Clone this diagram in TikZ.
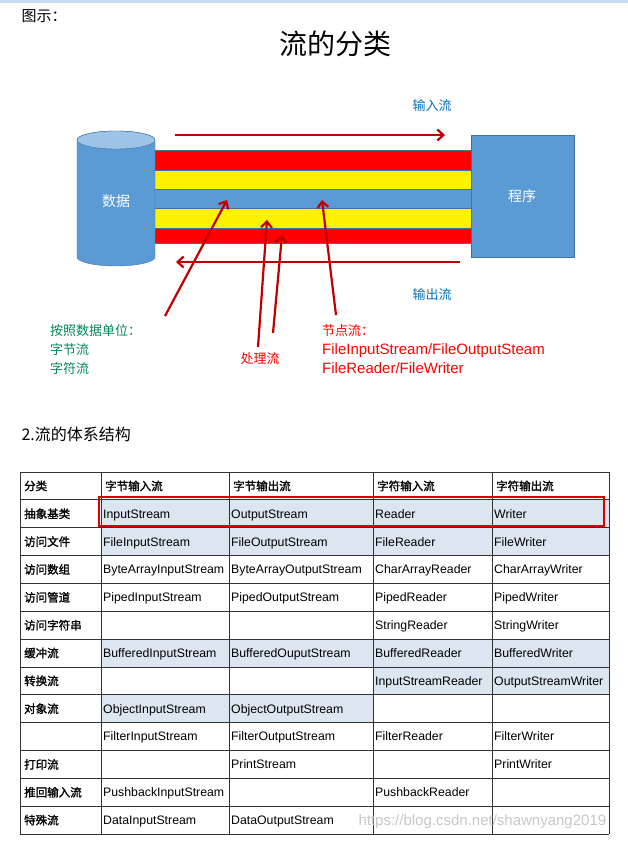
\documentclass[tikz,border=0pt]{standalone}
\usepackage{fontspec}
\setmainfont{Liberation Sans}
\newfontfamily\cjk{Noto Sans CJK SC}
\newfontfamily\cjkb[FakeBold=1.5]{Noto Sans CJK SC}
\usetikzlibrary{shapes.geometric,arrows.meta}
\definecolor{cylblue}{HTML}{5B9BD5}
\definecolor{cyltop}{HTML}{9DC3E6}
\definecolor{edgeblue}{HTML}{41719C}
\definecolor{lblue}{HTML}{DCE6F1}
\definecolor{dred}{HTML}{C00000}
\definecolor{lgreen}{HTML}{00855A}
\definecolor{tblue}{HTML}{0070C0}
\begin{document}
\begin{tikzpicture}[x=1pt,y=-1pt,
  redarr/.style={draw=dred,line width=2.2pt,-{Straight Barb[length=6pt,width=11pt]}},
  cell/.style={anchor=base west,font=\fontsize{12.3}{13}\selectfont,inner sep=0pt},
  hcell/.style={anchor=west,font=\cjkb\fontsize{11.5}{12}\selectfont,inner sep=0pt}]
\useasboundingbox (0,0) rectangle (628,841);
\fill[cyltop!60] (0,0) rectangle (628,3);
\node[anchor=west,font=\cjk\fontsize{15}{15}\selectfont] (tu) at (18,16) {图示：};
\node[font=\cjk\fontsize{28}{28}\selectfont] (title) at (335,44) {流的分类};
% stripes
\fill[red] (155,150) rectangle (471,170);
\fill[yellow] (155,170) rectangle (471,189);
\fill[cylblue] (155,189) rectangle (471,208);
\fill[yellow] (155,208) rectangle (471,228);
\fill[red] (155,228) rectangle (471,243);
\foreach \y in {150,170,189,208,228,243} \draw[edgeblue,line width=0.6pt] (155,\y) -- (471,\y);
% cylinder
\fill[cylblue,draw=edgeblue] (77,140) -- (77,257) arc[start angle=180,end angle=0,x radius=39,y radius=9] -- (155,140) arc[start angle=0,end angle=-180,x radius=39,y radius=9];
\fill[cyltop,draw=edgeblue] (116,140) ellipse[x radius=39,y radius=9];
\node[font=\cjk\fontsize{14}{14}\selectfont,text=white] (data) at (116,201) {数据};
\node[draw=edgeblue,fill=cylblue,minimum width=103pt,minimum height=122pt,inner sep=0pt] (prog) at (522.5,196) {};
\node[font=\cjk\fontsize{14}{14}\selectfont,text=white] (progt) at (522,196) {程序};
% flow arrows
\coordinate (i1) at (175,135); \coordinate (i2) at (445,135);
\coordinate (o1) at (460,262); \coordinate (o2) at (176,262);
\draw[redarr] (i1) -- (i2);
\draw[redarr] (o1) -- (o2);
\node[font=\cjk\fontsize{13}{13}\selectfont,text=tblue] (in) at (432,106) {输入流};
\node[font=\cjk\fontsize{13}{13}\selectfont,text=tblue] (out) at (432,295) {输出流};
% labels
\node[anchor=north west,align=left,inner sep=0pt,font=\cjk\fontsize{13}{19}\selectfont,text=lgreen] (g) at (50,324) {按照数据单位：\\字节流\\字符流};
\node[font=\cjk\fontsize{13}{13}\selectfont,text=red] (p) at (260,359) {处理流};
\node[anchor=north west,align=left,inner sep=0pt,font=\fontsize{15}{19}\selectfont,text=red] (n) at (322,324) {{\cjk\fontsize{13}{19}\selectfont 节点流：}\\FileInputStream/FileOutputSteam\\FileReader/FileWriter};
\coordinate (a1s) at (165,316); \coordinate (a1e) at (227,200);
\coordinate (a2s) at (258,347); \coordinate (a2e) at (267,220);
\coordinate (a3s) at (273,333); \coordinate (a3e) at (282,235);
\coordinate (a4s) at (336,315); \coordinate (a4e) at (322,200);
\draw[redarr] (a1s) -- (a1e);
\draw[redarr] (a2s) -- (a2e);
\draw[redarr] (a3s) -- (a3e);
\draw[redarr] (a4s) -- (a4e);
\node[anchor=west,font=\cjk\fontsize{16}{16}\selectfont] (h2) at (18,434) {2.流的体系结构};
% table shading
\fill[lblue] (101,{472+27.85}) rectangle (609,{472+3*27.85});
\fill[lblue] (101,{472+6*27.85}) rectangle (609,{472+7*27.85});
\fill[lblue] (373,{472+7*27.85}) rectangle (609,{472+8*27.85});
\fill[lblue] (101,{472+8*27.85}) rectangle (373,{472+9*27.85});
% grid
\foreach \i in {0,...,13} \draw[black!80,line width=0.8pt] (20,{472+\i*27.85}) -- (609,{472+\i*27.85});
\foreach \x in {20,101,229,373,492,609} \draw[black!80,line width=0.8pt] (\x,472) -- (\x,834);
\def\cols{{20,101,229,373,492}}
\foreach \t [count=\c from 0] in {分类,字节输入流,字节输出流,字符输入流,字符输出流}
  \node[hcell] (h\c) at ({\cols[\c]+4},{472+13.9}) {\t};
\foreach \t [count=\r from 1] in {抽象基类,访问文件,访问数组,访问管道,访问字符串,缓冲流,转换流,对象流,{},打印流,推回输入流,特殊流}
  \node[hcell] (r\r) at (24,{472+27.85*\r+13.9}) {\t};
\foreach \r/\a/\b/\cc/\d in {
 1/InputStream/OutputStream/Reader/Writer,
 2/FileInputStream/FileOutputStream/FileReader/FileWriter,
 3/ByteArrayInputStream/ByteArrayOutputStream/CharArrayReader/CharArrayWriter,
 4/PipedInputStream/PipedOutputStream/PipedReader/PipedWriter,
 5/{}/{}/StringReader/StringWriter,
 6/BufferedInputStream/BufferedOuputStream/BufferedReader/BufferedWriter,
 7/{}/{}/InputStreamReader/OutputStreamWriter,
 8/ObjectInputStream/ObjectOutputStream/{}/{},
 9/FilterInputStream/FilterOutputStream/FilterReader/FilterWriter,
 10/{}/PrintStream/{}/PrintWriter,
 11/PushbackInputStream/{}/PushbackReader/{},
 12/DataInputStream/DataOutputStream/{}/{}} {
  \node[cell] (c\r a) at (103,{472+27.85*\r+18.3}) {\a};
  \node[cell] (c\r b) at (231,{472+27.85*\r+18.3}) {\b};
  \node[cell] (c\r c) at (375,{472+27.85*\r+18.3}) {\cc};
  \node[cell] (c\r d) at (494,{472+27.85*\r+18.3}) {\d};
}
\draw[red!85!black,line width=1.2pt] (99,497) rectangle (604,526);
\node[anchor=west,font=\fontsize{15}{15}\selectfont,text=black!22] (wm) at (355,822) {https://blog.csdn.net/shawnyang2019};
\end{tikzpicture}
\end{document}
